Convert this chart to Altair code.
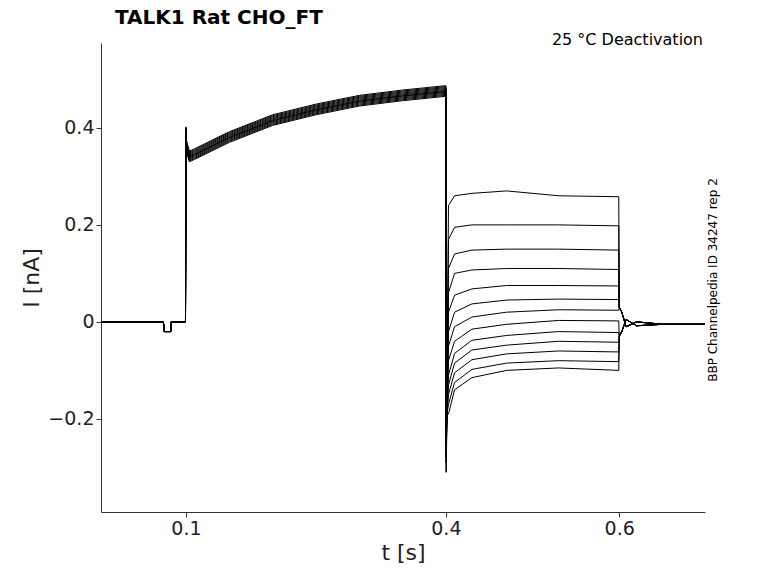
import pandas as pd
import altair as alt

# shared activation step (0.1 - 0.4 s)
act_t = [0.002, 0.074, 0.075, 0.0825, 0.083, 0.0995, 0.1, 0.1008, 0.104, 0.11, 0.15, 0.2, 0.25, 0.3, 0.35, 0.3995]
act_i = [0.0, 0.0, -0.02, -0.02, 0.0, 0.0, 0.39, 0.36, 0.34, 0.345, 0.38, 0.415, 0.437, 0.455, 0.466, 0.475]
act_off = [0.012, 0.008, 0.004, 0.0, -0.004, -0.008, 0.01, -0.01, 0.006, -0.006, 0.002, -0.002, 0.0]

# tail step (0.4 - 0.6 s), one entry per trace
tail_t = [0.4, 0.4005, 0.403, 0.41, 0.43, 0.47, 0.53, 0.5995]
tail_spike = [-0.31, -0.29, -0.28, -0.27, -0.26, -0.25, -0.25, -0.24, -0.23, -0.22, -0.21, -0.2, -0.19]
tail_03 = [0.24, 0.17, 0.11, 0.06, 0.02, -0.02, -0.05, -0.08, -0.11, -0.13, -0.15, -0.17, -0.19]
tail_10 = [0.26, 0.195, 0.14, 0.1, 0.055, 0.02, -0.01, -0.04, -0.065, -0.085, -0.105, -0.125, -0.14]
tail_30 = [0.265, 0.2, 0.148, 0.107, 0.068, 0.037, 0.01, -0.015, -0.038, -0.058, -0.078, -0.098, -0.115]
tail_70 = [0.27, 0.2, 0.15, 0.11, 0.075, 0.045, 0.02, -0.005, -0.028, -0.048, -0.066, -0.085, -0.1]
tail_lvl = [0.26, 0.2, 0.15, 0.11, 0.075, 0.047, 0.025, 0.003, -0.02, -0.04, -0.06, -0.08, -0.095]
tail_end = [0.258, 0.198, 0.148, 0.108, 0.074, 0.046, 0.024, 0.002, -0.022, -0.042, -0.062, -0.082, -0.1]

# after the step (0.6 - 0.7 s)
post_t = [0.6, 0.603, 0.608, 0.62, 0.65, 0.699]
post_first = [0.03, 0.02, -0.01, 0.0, -0.005, -0.005]
post_second = [-0.03, -0.02, 0.005, -0.008, -0.005, -0.005]

rows = []
for k in range(len(tail_lvl)):
    for t, v in zip(act_t, act_i):
        off = act_off[k] if t >= 0.1 else 0.0
        rows.append({"trace": k, "t": t, "i": v + off})
    tail_i = [tail_spike[k], tail_spike[k], tail_03[k], tail_10[k], tail_30[k], tail_70[k], tail_lvl[k], tail_end[k]]
    rows.append({"trace": k, "t": 0.4, "i": act_i[-1] + act_off[k]})
    for t, v in zip(tail_t, tail_i):
        rows.append({"trace": k, "t": t, "i": v})
    post = post_first if k < 7 else post_second
    for t, v in zip(post_t, post):
        rows.append({"trace": k, "t": t, "i": v})
df = pd.DataFrame(rows)
df["order"] = range(len(df))

lines = alt.Chart(df).mark_line(color="black", strokeWidth=1, clip=True).encode(
    x=alt.X("t:Q", title="t [s]", scale=alt.Scale(domain=[0.002, 0.699], nice=False, zero=False),
            axis=alt.Axis(values=[0.1, 0.4, 0.6], format=".1f", grid=False)),
    y=alt.Y("i:Q", title="I [nA]", scale=alt.Scale(domain=[-0.392, 0.575], nice=False),
            axis=alt.Axis(values=[-0.2, 0, 0.2, 0.4], grid=False,
                          labelExpr="datum.value == 0 ? '0' : format(datum.value, '.1f')")),
    detail="trace:N",
    order="order:Q",
)

font = "DejaVu Sans"
title = alt.Chart(pd.DataFrame({"s": ["TALK1  Rat  CHO_FT"]})).mark_text(
    align="left", baseline="middle", fontSize=20, fontWeight="bold", font=font, color="black"
).encode(x=alt.value(14), y=alt.value(-25), text="s:N")
cond = alt.Chart(pd.DataFrame({"s": ["25 °C  Deactivation"]})).mark_text(
    align="right", baseline="middle", fontSize=16, font=font, color="black"
).encode(x=alt.value(602), y=alt.value(-3), text="s:N")
side = alt.Chart(pd.DataFrame({"s": ["BBP Channelpedia ID 34247 rep 2"]})).mark_text(
    align="center", baseline="middle", fontSize=12, font=font, color="black", angle=270
).encode(x=alt.value(612), y=alt.value(237), text="s:N")

chart = (lines + title + cond + side).properties(
    width=604, height=469, autosize="none",
    padding={"left": 93, "top": 35, "right": 65, "bottom": 63},
).configure_view(stroke=None).configure_axis(
    labelFont=font, titleFont=font, labelFontSize=19, titleFontSize=22,
    titleFontWeight="normal", labelColor="#222", titleColor="#222",
    domainColor="#333", tickColor="#333", ticks=True, tickSize=5,
)
chart.save("out.html", embed_options={"renderer": "svg", "actions": False})
